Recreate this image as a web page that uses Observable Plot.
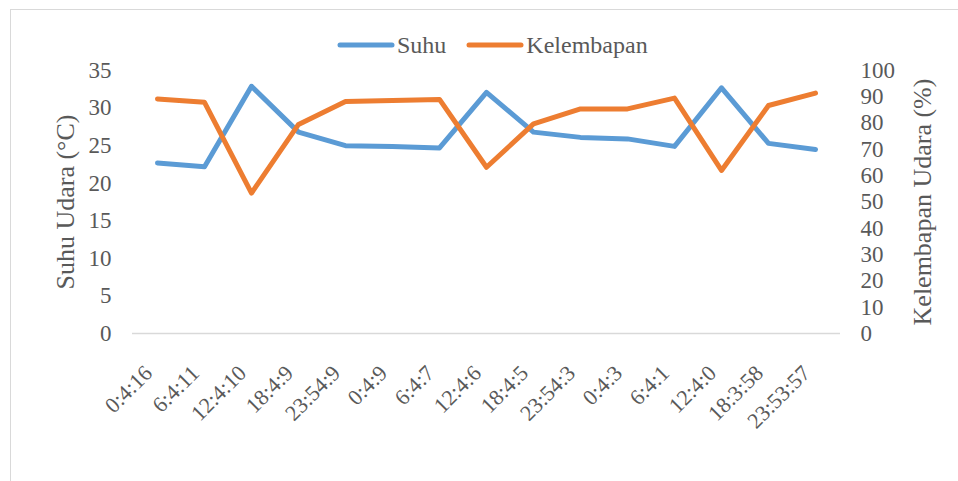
<!DOCTYPE html>
<html>
<head>
<meta charset="utf-8">
<script src="https://cdn.jsdelivr.net/npm/d3@7"></script>
<script src="https://cdn.jsdelivr.net/npm/@observablehq/plot@0.6"></script>
<style>
  html, body { margin: 0; padding: 0; background: #fff; overflow: hidden; }
  #wrap { position: relative; width: 958px; height: 481px; overflow: hidden; font-family: "Liberation Serif", serif; color: #595959; }
  #frame { position: absolute; left: 10px; top: 9px; width: 1200px; height: 1200px; border: 1px solid #d9d9d9; box-sizing: border-box; }
  #chart { position: absolute; left: 0; top: 0; }
  #legend { position: absolute; left: 334px; top: 31px; display: flex; align-items: center; font-family: "Liberation Serif", serif; font-size: 24px; line-height: 28px; white-space: nowrap; color: #595959; }
  #legend .item { display: flex; align-items: center; margin-right: 17px; }
  #legend svg { display: block; margin-right: 2px; }
</style>
</head>
<body>
<div id="wrap">
  <div id="frame"></div>
  <div id="chart"></div>
  <div id="legend"></div>
</div>
<script>
// ---- Data ----
const times = ["0:4:16", "6:4:11", "12:4:10", "18:4:9", "23:54:9", "0:4:9", "6:4:7", "12:4:6", "18:4:5", "23:54:3", "0:4:3", "6:4:1", "12:4:0", "18:3:58", "23:53:57"];
const suhu = [22.7, 22.2, 32.9, 26.8, 25.0, 24.9, 24.7, 32.1, 26.8, 26.1, 25.9, 24.9, 32.7, 25.3, 24.5];
const kelembapan = [89.2, 87.9, 53.4, 79.5, 88.2, 88.6, 89.0, 63.2, 79.7, 85.4, 85.4, 89.5, 62.0, 86.7, 91.4];
const suhuTicks = [0, 5, 10, 15, 20, 25, 30, 35];
const kelTicks = [0, 10, 20, 30, 40, 50, 60, 70, 80, 90, 100];
const seriesNames = ["Suhu", "Kelembapan"];
const seriesColors = ["#5B9BD5", "#ED7D31"];
const yTitleLeft = "Suhu Udara (°C)";
const yTitleRight = "Kelembapan Udara (%)";

const serif = "'Liberation Serif', serif";
// right axis maps 0..100 onto the left scale 0..35
const ratio = 35 / 100;
const rows = times.map((t, i) => ({t, suhu: suhu[i], kel: kelembapan[i]}));

const chart = Plot.plot({
  width: 958,
  height: 481,
  marginLeft: 132,
  marginRight: 118,
  marginTop: 70,
  marginBottom: 148,
  style: {fontFamily: serif, color: "#595959", background: "transparent", overflow: "visible"},
  x: {type: "point", domain: times, padding: 0.5},
  y: {domain: [0, 35]},
  marks: [
    Plot.ruleY([0], {stroke: "#d9d9d9", strokeWidth: 1.5}),
    Plot.axisY(suhuTicks, {anchor: "left", tickSize: 0, tickPadding: 21, fontSize: 23, fontFamily: serif, label: null}),
    Plot.axisY(kelTicks.map(v => v * ratio), {anchor: "right", tickSize: 0, tickPadding: 20, fontSize: 23, fontFamily: serif, label: null, tickFormat: d => Math.round(d / ratio)}),
    Plot.axisX({tickRotate: -45, tickSize: 0, tickPadding: 36, dx: -9, fontSize: 22, fontFamily: serif, label: null}),
    Plot.text([yTitleLeft], {frameAnchor: "left", dx: -67, rotate: -90, fontSize: 26, fontFamily: serif, fill: "#595959", textAnchor: "middle"}),
    Plot.text([yTitleRight], {frameAnchor: "right", dx: 82, rotate: -90, fontSize: 26, fontFamily: serif, fill: "#595959", textAnchor: "middle"}),
    Plot.line(rows, {x: "t", y: "suhu", stroke: seriesColors[0], strokeWidth: 5, strokeLinecap: "round", strokeLinejoin: "round"}),
    Plot.line(rows, {x: "t", y: d => d.kel * ratio, stroke: seriesColors[1], strokeWidth: 5, strokeLinecap: "round", strokeLinejoin: "round"})
  ]
});
document.getElementById("chart").appendChild(chart);

// Legend
const legend = document.getElementById("legend");
seriesNames.forEach((name, i) => {
  const item = document.createElement("div");
  item.className = "item";
  item.innerHTML = `<svg width="61" height="10"><line x1="6" y1="5" x2="58" y2="5" stroke="${seriesColors[i]}" stroke-width="5" stroke-linecap="round"/></svg><span>${name}</span>`;
  legend.appendChild(item);
});
</script>
</body>
</html>
